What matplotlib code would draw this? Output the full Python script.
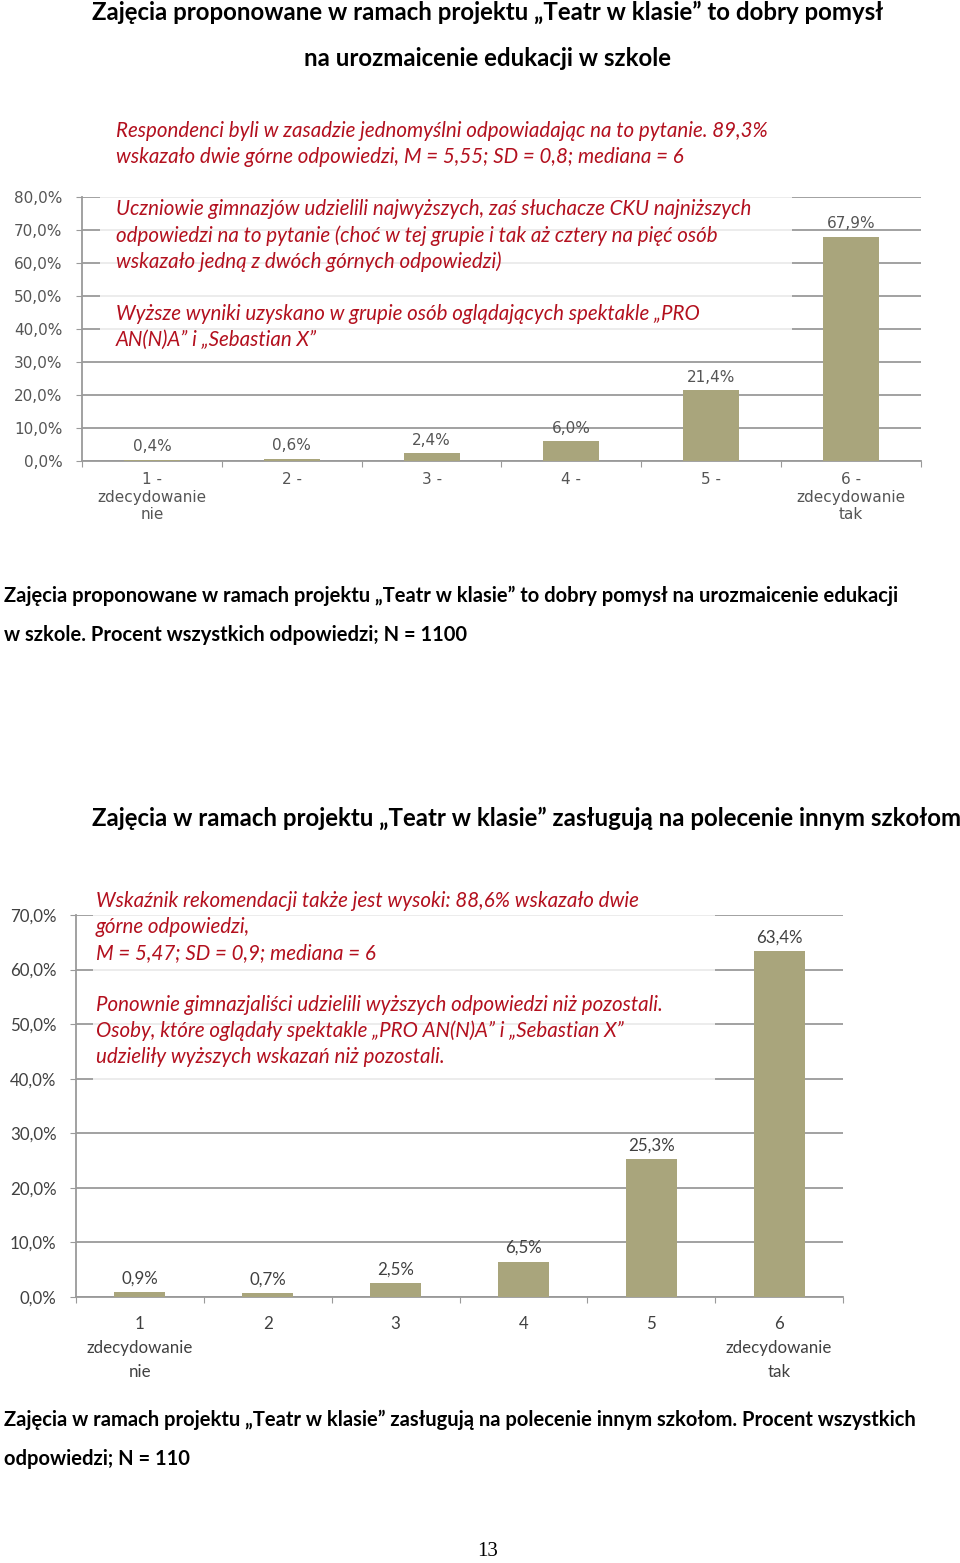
import numpy as np
import matplotlib
matplotlib.use("Agg")
import matplotlib.pyplot as plt
from matplotlib.patches import Rectangle

# data - chart 1
cats1 = ["1 -\nzdecydowanie\nnie", "2 -", "3 -", "4 -", "5 -", "6 -\nzdecydowanie\ntak"]
vals1 = [0.4, 0.6, 2.4, 6.0, 21.4, 67.9]
# data - chart 2
cats2 = ["1\nzdecydowanie\nnie", "2", "3", "4", "5", "6\nzdecydowanie\ntak"]
vals2 = [0.9, 0.7, 2.5, 6.5, 25.3, 63.4]

W, H = 960, 1563
BAR = "#a9a57c"
RED = "#b3101e"
GRID = "#9a9a9a"


def fx(x):
    return x / W


def fy(y):
    return 1 - y / H


def pct(v):
    return f"{v:.1f}%".replace(".", ",")


fig = plt.figure(figsize=(W / 100, H / 100), dpi=100)
fig.patch.set_facecolor("white")


def bar_chart(rect, cats, vals, ymax, font, fs, tick_col, lsp, xpad):
    l, t, r, b = rect
    ax = fig.add_axes([fx(l), fy(b), fx(r - l), (b - t) / H])
    x = np.arange(len(vals))
    ax.bar(x, vals, width=0.4, color=BAR, zorder=3)
    ax.set_xlim(-0.5, len(vals) - 0.5)
    ax.set_ylim(0, ymax)
    yt = np.arange(0, ymax + 1, 10)
    ax.set_yticks(yt)
    ax.set_yticklabels([pct(v) for v in yt], fontsize=fs, color=tick_col, family=font)
    ax.yaxis.grid(True, color=GRID, lw=1.3, zorder=0)
    ax.set_axisbelow(True)
    ax.set_xticks(np.arange(len(vals) + 1) - 0.5)
    ax.set_xticklabels([])
    ax.set_xticks(x, minor=True)
    ax.set_xticklabels(cats, minor=True, fontsize=fs, color=tick_col,
                       family=font, linespacing=lsp)
    ax.tick_params(axis="x", which="minor", length=0, pad=xpad)
    ax.tick_params(axis="x", which="major", length=4, color=GRID, direction="out")
    ax.tick_params(axis="y", length=4.5, color=GRID, pad=9.5)
    for s in ["top", "right"]:
        ax.spines[s].set_visible(False)
    for s in ["left", "bottom"]:
        ax.spines[s].set_color(GRID)
        ax.spines[s].set_linewidth(1.3)
    for xi, v in zip(x, vals):
        ax.annotate(pct(v), (xi, v), xytext=(0, 4), textcoords="offset points",
                    ha="center", va="bottom", fontsize=fs, color=tick_col,
                    family=font)
    return ax


def txt(x, y, s, **kw):
    fig.text(fx(x), fy(y), s, va="center", **kw)


# ---- chart 1 ----
bold = dict(family="Lato", weight="bold", color="black")
red = dict(family="Lato", style="italic", color=RED, fontsize=14.8)

txt(488, 12, "Zajęcia proponowane w ramach projektu „Teatr w klasie” to dobry pomysł",
    ha="center", fontsize=17.3, **bold)
txt(488, 58, "na urozmaicenie edukacji w szkole", ha="center", fontsize=17.3, **bold)
txt(116, 131, "Respondenci byli w zasadzie jednomyślni odpowiadając na to pytanie. 89,3%", **red)
txt(116, 157, "wskazało dwie górne odpowiedzi, M = 5,55; SD = 0,8; mediana = 6", **red)

bar_chart((82, 197, 921, 461), cats1, vals1, 80, "DejaVu Sans", 11, "#555555", 1.2, 8)
fig.patches.append(Rectangle((fx(100), fy(360)), fx(692), (360 - 194) / H,
                             transform=fig.transFigure, facecolor="white",
                             alpha=0.8, edgecolor="none", zorder=1))
for y, s in [(209, "Uczniowie gimnazjów udzielili najwyższych, zaś słuchacze CKU najniższych"),
             (236, "odpowiedzi na to pytanie (choć w tej grupie i tak aż cztery na pięć osób"),
             (262, "wskazało jedną z dwóch górnych odpowiedzi)"),
             (314, "Wyższe wyniki uzyskano w grupie osób oglądających spektakle „PRO"),
             (340, "AN(N)A” i „Sebastian X”")]:
    txt(116, y, s, zorder=5, **red)

txt(4, 596, "Zajęcia proponowane w ramach projektu „Teatr w klasie” to dobry pomysł na urozmaicenie edukacji",
    fontsize=14.5, **bold)
txt(4, 635, "w szkole. Procent wszystkich odpowiedzi; N = 1100", fontsize=14.5, **bold)

# ---- chart 2 ----
txt(92, 818, "Zajęcia w ramach projektu „Teatr w klasie” zasługują na polecenie innym szkołom",
    fontsize=17.3, **bold)

bar_chart((76, 915, 843, 1297), cats2, vals2, 70, "Lato", 12.2, "#404040", 1.6, 14)
fig.patches.append(Rectangle((fx(93), fy(1085)), fx(622), (1085 - 893) / H,
                             transform=fig.transFigure, facecolor="white",
                             alpha=0.8, edgecolor="none", zorder=1))
for y, s in [(901, "Wskaźnik rekomendacji także jest wysoki: 88,6% wskazało dwie"),
             (927, "górne odpowiedzi,"),
             (953, "M = 5,47; SD = 0,9; mediana = 6"),
             (1005, "Ponownie gimnazjaliści udzielili wyższych odpowiedzi niż pozostali."),
             (1031, "Osoby, które oglądały spektakle „PRO AN(N)A” i „Sebastian X”"),
             (1057, "udzieliły wyższych wskazań niż pozostali.")]:
    txt(96, y, s, zorder=5, **red)

txt(4, 1420, "Zajęcia w ramach projektu „Teatr w klasie” zasługują na polecenie innym szkołom. Procent wszystkich",
    fontsize=14.5, **bold)
txt(4, 1459, "odpowiedzi; N = 110", fontsize=14.5, **bold)

txt(488, 1552, "13", ha="center", fontsize=15, family="Liberation Serif", color="black")

fig.savefig("out.png", dpi=100, facecolor="white")
